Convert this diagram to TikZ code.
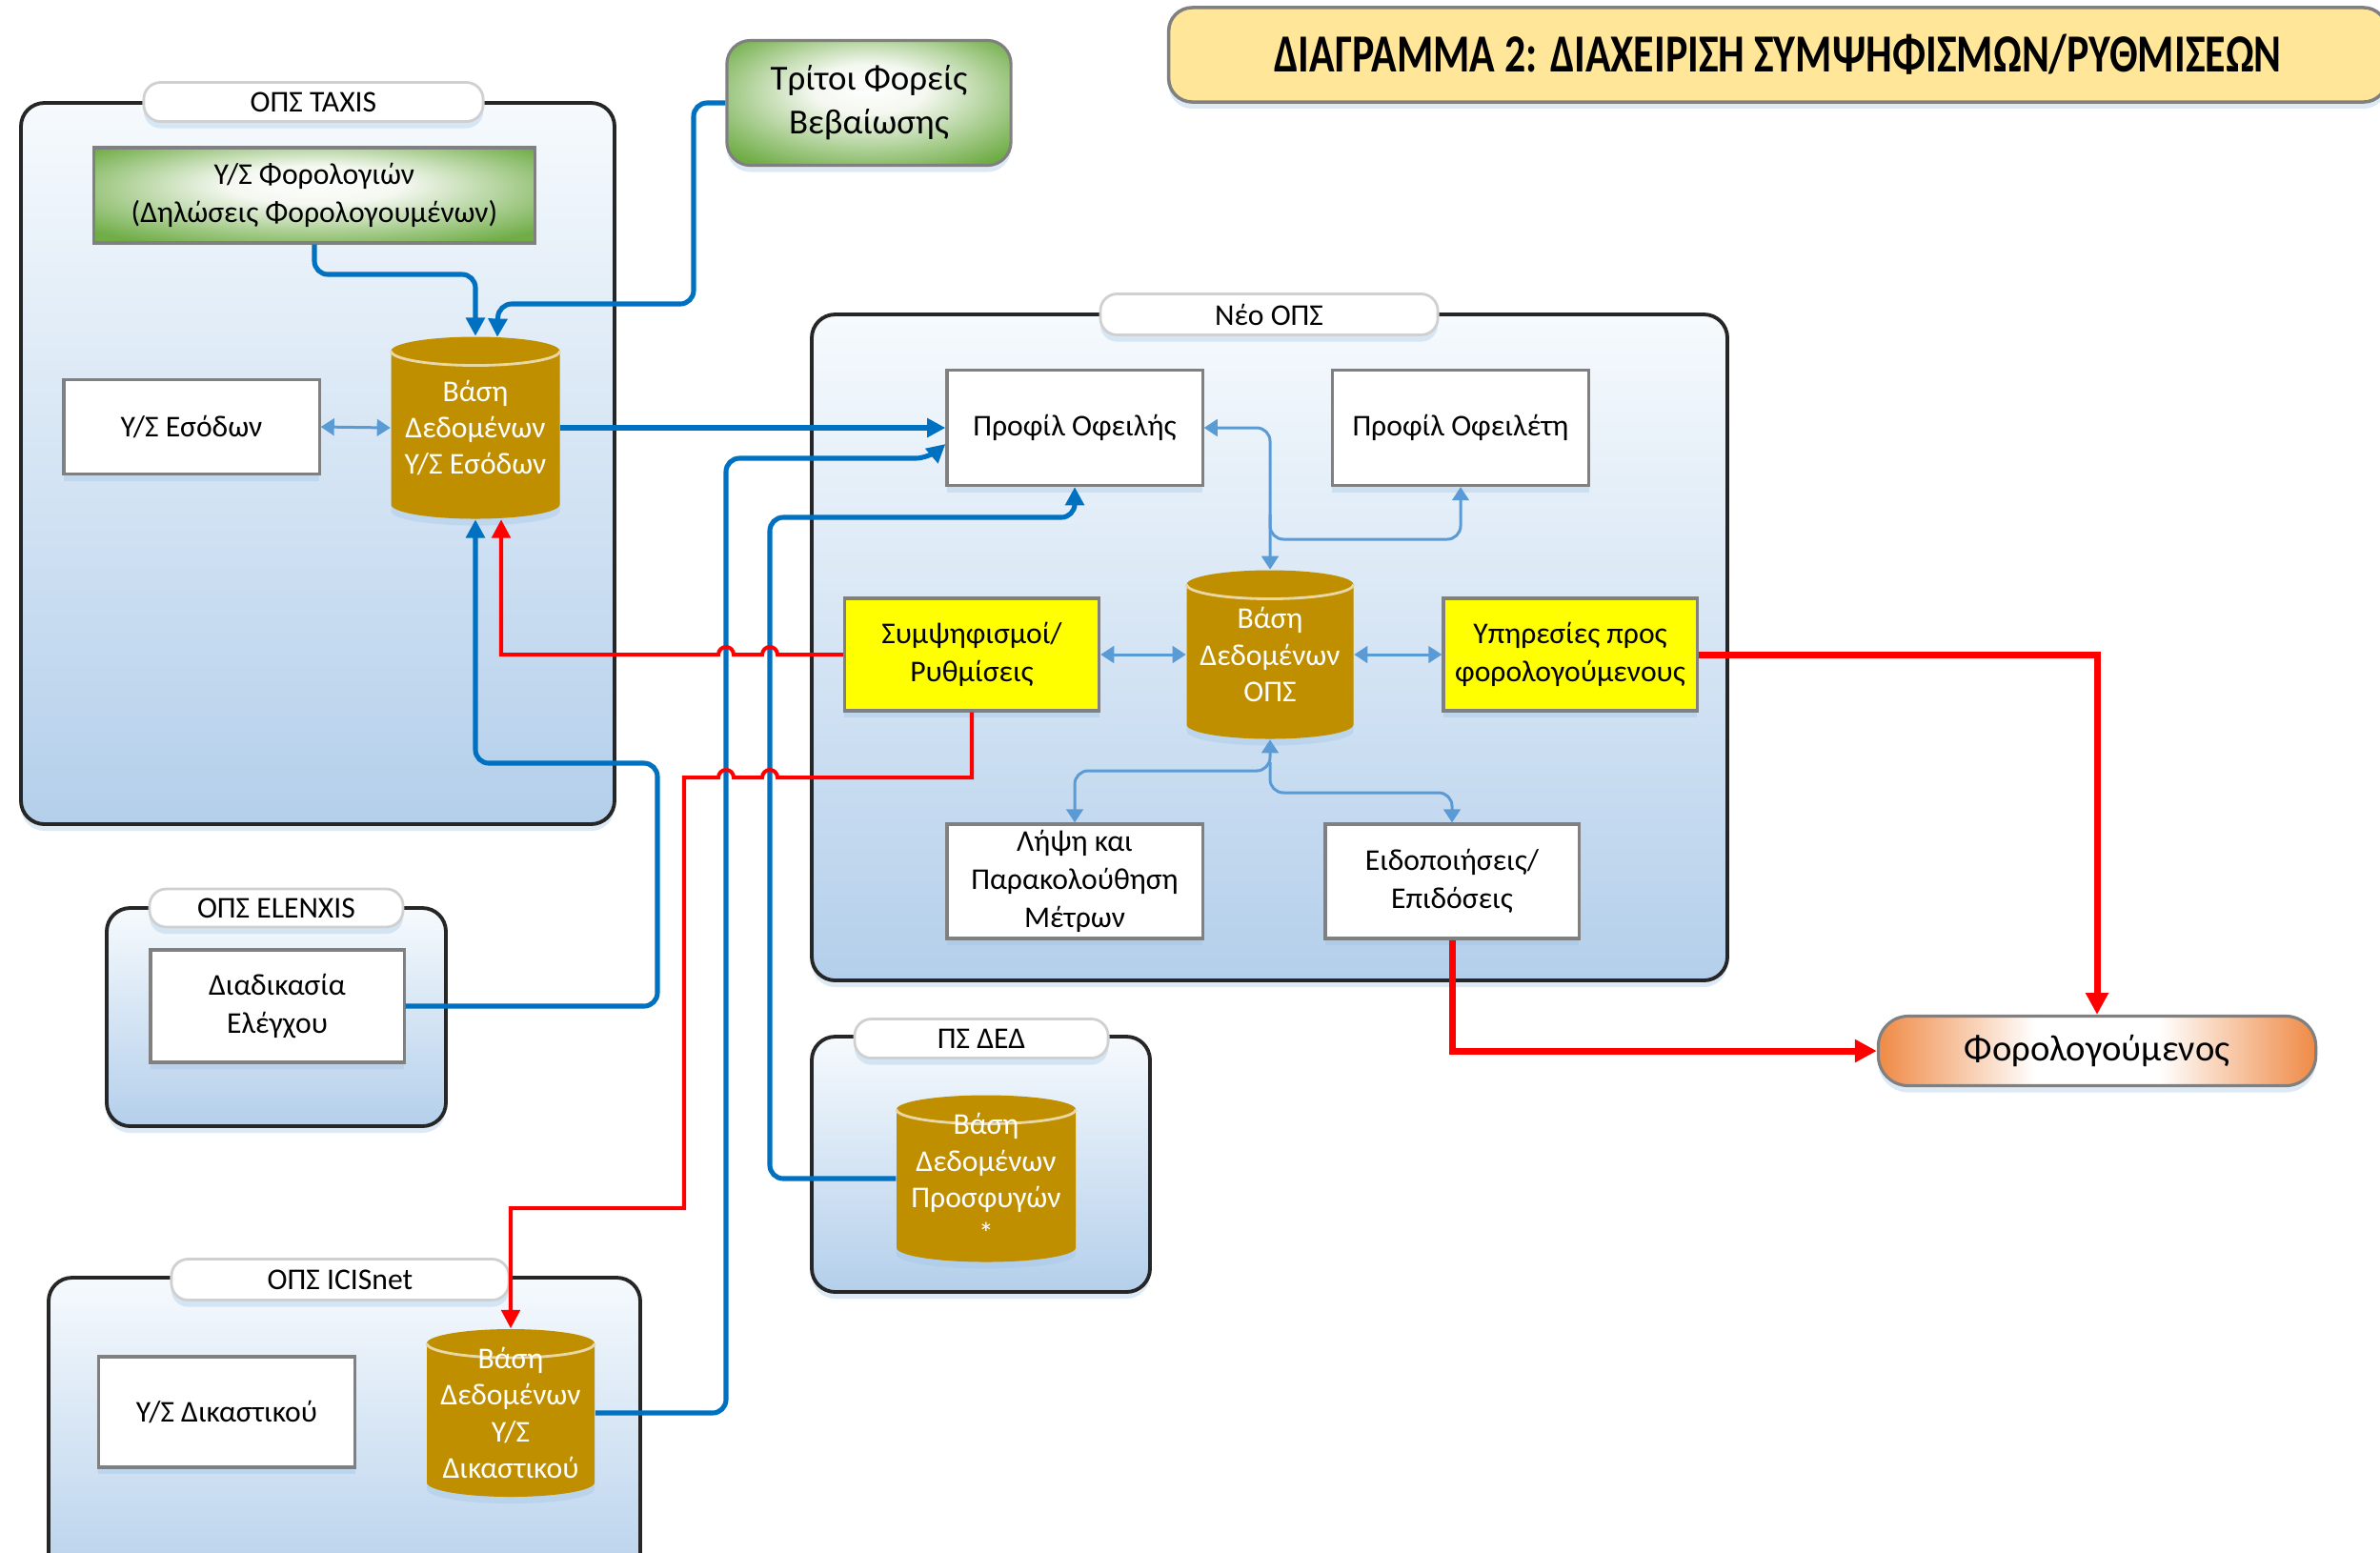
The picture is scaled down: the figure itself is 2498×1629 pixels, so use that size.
\documentclass[tikz,border=0pt]{standalone}
\usepackage{fontspec}
\setmainfont{Carlito}
\usetikzlibrary{arrows.meta,shapes.geometric,calc,shadows}

\definecolor{tblue}{HTML}{0070C0}
\definecolor{lblue}{HTML}{5B9BD5}
\definecolor{dbcol}{HTML}{BF8F00}
\definecolor{boxgray}{HTML}{808080}
\definecolor{grpborder}{HTML}{262626}
\definecolor{grptop}{HTML}{F6FAFD}
\definecolor{grpbot}{HTML}{B4CFEB}
\definecolor{titlefill}{HTML}{FFE699}
\definecolor{ggreen}{HTML}{70AD47}
\definecolor{glight}{HTML}{F4F8F0}
\definecolor{orng}{HTML}{ED7D31}
\definecolor{pillgray}{HTML}{D0D0D0}
\definecolor{yel}{HTML}{FFFF00}
\definecolor{rcol}{HTML}{FF0000}
\definecolor{shadcol}{HTML}{9DC3E6}

\pgfdeclareradialshading{gshade}{\pgfpoint{0bp}{7bp}}{color(0bp)=(white); color(10bp)=(glight); color(33bp)=(ggreen); color(50bp)=(ggreen)}
\pgfdeclarehorizontalshading{oshade}{100bp}{color(0bp)=(orng); color(25bp)=(orng!90!white); color(43bp)=(white); color(57bp)=(white); color(75bp)=(orng!90!white); color(100bp)=(orng)}

\newcommand\fsn{\fontsize{9pt}{11.4pt}\selectfont}
\newcommand\fsc{\fontsize{9pt}{10.9pt}\selectfont}

\newcommand\dbcyl[6]{%
  \pgfmathsetmacro\dbxl{#2-#4/2}%
  \pgfmathsetmacro\dbxr{#2+#4/2}%
  \pgfmathsetmacro\dbyt{-#3+#5/2-15}%
  \pgfmathsetmacro\dbyb{-#3-#5/2+15}%
  \pgfmathsetmacro\dbrx{#4/2}%
  \fill[dbcol,shad] (\dbxl,\dbyt) -- (\dbxl,\dbyb) arc[start angle=180,end angle=360,x radius=\dbrx,y radius=15]
     -- (\dbxr,\dbyt) arc[start angle=0,end angle=180,x radius=\dbrx,y radius=15] -- cycle;
  \draw[white!65!dbcol,line width=0.8pt] (\dbxl,\dbyt) arc[start angle=180,end angle=360,x radius=\dbrx,y radius=15];
  \node[dbtext,sz={#4}{#5}] (#1) at (#2,-#3) {#6};
}

\begin{document}
\begin{tikzpicture}[x=0.01cm,y=0.01cm,
  sz/.style 2 args={minimum width={#1*0.28453pt},minimum height={#2*0.28453pt}},
  shad/.style={drop shadow={shadow xshift=0pt,shadow yshift=-2pt,opacity=0.35,fill=shadcol}},
  wbox/.style={draw=boxgray,line width=0.9pt,fill=white,align=center,font=\fsn,inner sep=1pt,shad},
  ybox/.style={wbox,fill=yel},
  gbox/.style={draw=boxgray,line width=0.9pt,shading=gshade,align=center,font=\fsn,inner sep=1pt},
  pill/.style={draw=pillgray,line width=0.8pt,fill=white,rounded corners=5pt,font=\fsn,inner sep=0pt,shad},
  grp/.style={draw=grpborder,line width=1.1pt,rounded corners=7pt,top color=grptop,bottom color=grpbot,shad},
  dbtext/.style={font=\fsc,text=white,align=center,inner sep=0pt},
  thk/.style={draw=tblue,line width=1.45pt,rounded corners=4pt,-{Triangle[length=5.5pt,width=5.5pt]}},
  lt/.style={draw=lblue,line width=0.85pt,rounded corners=4pt},
  lbi/.style={lt,{Triangle[length=4pt,width=5pt]}-{Triangle[length=4pt,width=5pt]}},
  lone/.style={lt,-{Triangle[length=4pt,width=5pt]}},
  rline/.style={draw=rcol,line width=1.15pt,-{Triangle[length=5.5pt,width=5.5pt]}},
  rthick/.style={draw=rcol,line width=2pt,-{Triangle[length=6.5pt,width=6.5pt]}},
  titlebox/.style={draw=boxgray,line width=1pt,fill=titlefill,rounded corners=7pt,inner sep=0pt,shad}
]
\useasboundingbox (0,0) rectangle (2498,-1629);

% ---------- group boxes ----------
\draw[grp] (22,-108) rectangle (645,-865);
\draw[grp] (852,-330) rectangle (1813,-1029);
\draw[grp] (112,-953) rectangle (468,-1182);
\draw[grp] (852,-1088) rectangle (1207,-1356);
\draw[grp] (51,-1341) rectangle (672,-1680);

% ---------- title ----------
\node[titlebox,sz={1278}{99}] (title) at (1866,-57.5)
  {\scalebox{0.78}[1]{\fontsize{16pt}{18pt}\selectfont\bfseries ΔΙΑΓΡΑΜΜΑ 2: ΔΙΑΧΕΙΡΙΣΗ ΣΥΜΨΗΦΙΣΜΩΝ/ΡΥΘΜΙΣΕΩΝ}};

% ---------- pills ----------
\node[pill,sz={356}{41}] (ptaxis) at (329,-107) {ΟΠΣ TAXIS};
\node[pill,sz={354}{43}] (pneo) at (1332,-330) {Νέο ΟΠΣ};
\node[pill,sz={266}{40}] (pelen) at (290,-953) {ΟΠΣ ELENXIS};
\node[pill,sz={266}{41}] (pded) at (1030,-1090) {ΠΣ ΔΕΔ};
\node[pill,sz={354}{43}] (picis) at (357,-1343) {ΟΠΣ ICISnet};

% ---------- boxes ----------
\node[gbox,sz={462}{100}] (gphor) at (330,-205) {Υ/Σ Φορολογιών\\(Δηλώσεις Φορολογουμένων)};
\node[wbox,sz={268}{99}] (yseso) at (201,-448) {Υ/Σ Εσόδων};
\node[draw=boxgray,line width=0.9pt,shading=gshade,rounded corners=7pt,
      align=center,font=\fontsize{10.5pt}{13.1pt}\selectfont,sz={298}{131},shad] (trit) at (912,-108) {Τρίτοι Φορείς\\Βεβαίωσης};

\node[wbox,sz={268}{121}] (profof) at (1128,-449) {Προφίλ Οφειλής};
\node[wbox,sz={269}{121}] (profeti) at (1533,-449) {Προφίλ Οφειλέτη};
\node[ybox,sz={267}{118}] (symps) at (1020,-687) {Συμψηφισμοί/\\Ρυθμίσεις};
\node[ybox,sz={266}{118}] (yphr) at (1648,-687) {Υπηρεσίες προς\\φορολογούμενους};
\node[wbox,sz={268}{120}] (lips) at (1128,-925) {Λήψη και\\Παρακολούθηση\\Μέτρων};
\node[wbox,sz={266}{120}] (eidop) at (1524,-925) {Ειδοποιήσεις/\\Επιδόσεις};

\node[wbox,sz={266}{118}] (diad) at (291,-1056) {Διαδικασία\\Ελέγχου};
\node[wbox,sz={269}{116}] (ydik) at (238,-1482) {Υ/Σ Δικαστικού};

\node[draw=boxgray,line width=0.9pt,shading=oshade,
      rounded corners=9pt,font=\fontsize{11pt}{13pt}\selectfont,sz={459}{73},shad] (foro) at (2201,-1103) {Φορολογούμενος};

% ---------- databases ----------
\dbcyl{cylT}{499}{449}{177}{191}{Βάση\\Δεδομένων\\Υ/Σ Εσόδων}
\dbcyl{cylO}{1333}{687}{175}{177}{Βάση\\Δεδομένων\\ΟΠΣ}
\dbcyl{cylD}{1035}{1237}{188}{175}{Βάση\\Δεδομένων\\Προσφυγών\\*}
\dbcyl{cylI}{536}{1483}{176}{176}{Βάση\\Δεδομένων\\Υ/Σ\\Δικαστικού}

\coordinate (j1) at (1333,-540);
\coordinate (j2) at (1333,-800);

% ---------- thick blue connectors ----------
\draw[thk] (gphor.south) -- (330,-288) -- (499,-288) -- (cylT.north);
\draw[thk] (trit.west) -- (728,-108) -- (728,-319) -- (523,-319) -- ($(cylT.north)+(23,-1)$);
\draw[thk] (cylT.east) -- (profof.west);
\draw[thk] (cylI.east) -- (762,-1483) -- (762,-481) -- (975,-481) -- ($(profof.west)+(0,-17)$);
\draw[thk] (cylD.west) -- (808,-1237) -- (808,-543) -- (1128,-543) -- (profof.south);
\draw[thk] (diad.east) -- (690,-1056) -- (690,-801) -- (499,-801) -- (cylT.south);

% ---------- light blue connectors ----------
\draw[lbi] (yseso.east) -- (cylT.west);
\draw[lbi] (profof.east) -- (1333,-449) -- (cylO.north);
\draw[lone] (j1) -- (1333,-566) -- (1533,-566) -- (profeti.south);
\draw[lbi] (symps.east) -- (cylO.west);
\draw[lbi] (cylO.east) -- (yphr.west);
\draw[lbi] (cylO.south) -- (1333,-809) -- (1128,-809) -- (lips.north);
\draw[lone] (j2) -- (1333,-832) -- (1524,-832) -- (eidop.north);

% ---------- red connectors ----------
\draw[rline] (symps.west) -- (816,-687) arc[start angle=0,end angle=180,radius=8]
   -- (770,-687) arc[start angle=0,end angle=180,radius=8] -- (526,-687) -- ($(cylT.south)+(27,0)$);
\draw[rline] (symps.south) -- (1020,-816) -- (816,-816) arc[start angle=0,end angle=180,radius=8]
   -- (770,-816) arc[start angle=0,end angle=180,radius=8] -- (718,-816) -- (718,-1268) -- (536,-1268) -- (cylI.north);
\draw[rthick] (yphr.east) -- (2201,-687) -- (foro.north);
\draw[rthick] (eidop.south) -- (1524,-1103) -- (foro.west);
\end{tikzpicture}
\end{document}
